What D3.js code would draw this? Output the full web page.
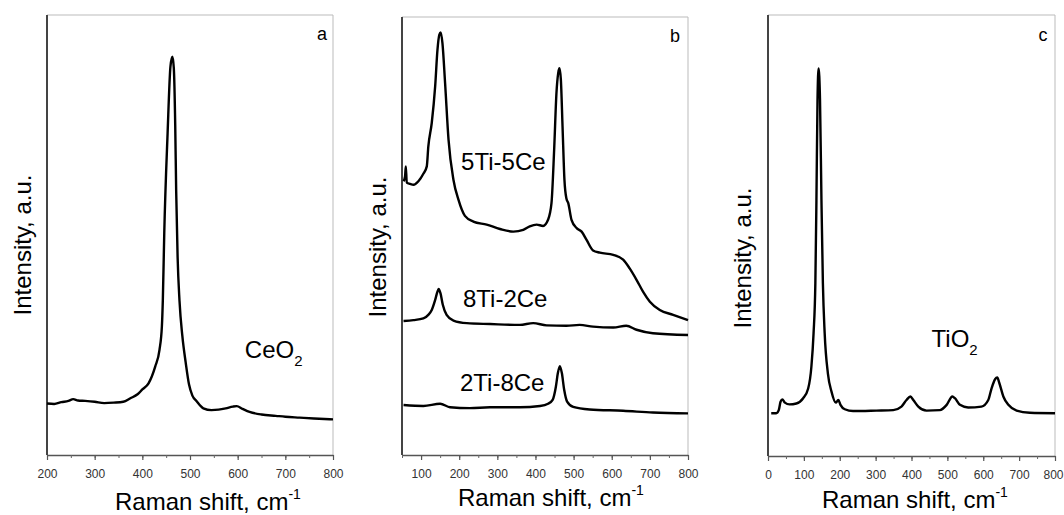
<!DOCTYPE html>
<html>
<head>
<meta charset="utf-8">
<script src="https://cdn.jsdelivr.net/npm/d3@7"></script>
<style>
body { margin: 0; background: #fff; }
text { font-family: "Liberation Sans", Arial, sans-serif; }
</style>
</head>
<body>
<div id="chart"></div>
<script>
// Raman spectra, three panels (a: CeO2, b: mixed oxides, c: TiO2)

// panel a - CeO2
var ceShift = [200, 215, 230, 245, 255, 265, 280, 300, 320, 340, 360, 375, 390, 400, 413, 427, 436, 441, 443, 446, 453, 459, 463, 466, 469, 471, 474, 478, 484, 491, 498, 505, 514, 528, 545, 560, 575, 590, 598, 610, 625, 650, 680, 700, 730, 760, 800];
var ceInt   = [11.7, 11.6, 12.0, 12.3, 12.7, 12.4, 12.3, 12.1, 11.8, 11.9, 12.1, 12.9, 13.8, 14.9, 16.3, 20.1, 23.9, 29.2, 35.2, 50.4, 73.1, 88.3, 90.5, 88.0, 75.0, 60.0, 45.0, 35.0, 27.0, 21.0, 16.0, 13.5, 12.2, 10.6, 10.2, 10.3, 10.6, 11.0, 11.1, 10.5, 9.8, 9.2, 8.9, 8.7, 8.5, 8.3, 8.1];

// panel b - 5Ti-5Ce
var s55Shift = [54, 58, 60, 62.5, 71, 80, 93, 106, 115, 119, 128, 137, 143, 148, 151.5, 156, 163, 172, 185, 198, 215, 237, 272, 307, 342, 368, 385, 403, 420, 433, 442, 449, 455, 459.6, 463, 466.6, 471, 476, 481, 486, 494.5, 508, 521, 534, 551, 569, 604, 630, 647, 665, 682, 700, 726, 761, 800];
var s55Int   = [62.5, 63.6, 65.9, 62.2, 61.9, 61.7, 62.5, 64.2, 65.9, 70.4, 75.8, 84.2, 92.5, 96.0, 96.5, 94.1, 84.9, 72.0, 62.8, 58.3, 54.6, 53.3, 52.6, 51.6, 51.0, 51.4, 52.2, 52.6, 52.3, 53.7, 57.5, 69.7, 82.6, 87.2, 88.3, 85.7, 75.0, 62.8, 58.6, 57.5, 53.7, 51.8, 51.0, 49.1, 46.7, 46.2, 45.7, 44.6, 42.6, 40.0, 37.3, 35.0, 33.1, 32.0, 30.8];

// panel b - 8Ti-2Ce
var s82Shift = [54, 80, 106, 119, 128, 137, 143, 146, 151, 157, 167, 185, 220, 281, 359, 394, 429, 481, 516, 551, 604, 638, 665, 708, 800];
var s82Int   = [30.6, 30.8, 31.2, 32.0, 33.1, 35.4, 37.3, 37.9, 36.9, 34.3, 32.0, 30.7, 30.1, 29.9, 29.7, 30.1, 29.6, 29.5, 29.7, 29.3, 29.1, 29.5, 28.6, 27.8, 27.4];

// panel b - 2Ti-8Ce
var s28Shift = [54, 106, 150, 176, 228, 281, 359, 412, 433, 445, 453.5, 458.7, 464, 469.2, 475.3, 483, 499, 542, 630, 708, 800];
var s28Int   = [11.4, 11.2, 11.7, 10.9, 10.7, 10.9, 10.9, 11.2, 11.7, 12.6, 15.6, 18.7, 20.3, 18.7, 14.9, 12.2, 11.0, 10.4, 10.1, 9.7, 9.5];

// panel c - TiO2
var tiShift = [9, 23, 30, 35, 40, 47, 60, 79, 98, 112, 121, 127, 132, 135, 138, 141, 145, 149, 153, 158, 167, 177, 189, 196, 202, 214, 237, 302, 349, 372, 386, 397, 405, 419, 442, 479, 498, 514, 521, 535, 558, 595, 614, 623, 633, 639, 645, 656, 670, 693, 730, 800];
var tiInt   = [9.7, 9.7, 10.4, 12.3, 12.8, 12.1, 11.7, 11.9, 13.1, 15.3, 20.3, 27.8, 39.2, 58.0, 80.7, 87.9, 80.7, 58.0, 39.2, 27.8, 18.7, 14.6, 12.1, 12.7, 11.6, 10.6, 10.2, 10.3, 10.4, 11.2, 12.7, 13.5, 12.7, 11.2, 10.3, 10.4, 11.6, 13.5, 13.1, 11.6, 11.0, 11.2, 12.7, 15.3, 17.4, 17.8, 16.5, 13.5, 11.6, 10.3, 9.8, 9.7];

// tick labels
var ticksA = [200, 300, 400, 500, 600, 700, 800];
var ticksB = [100, 200, 300, 400, 500, 600, 700, 800];
var ticksC = [0, 100, 200, 300, 400, 500, 600, 700, 800];

var w = 1064;
var h = 515;

var svg = d3.select("#chart").append("svg")
  .attr("width", w)
  .attr("height", h);

var panels = [
  { tag: "a", left: 47, right: 333, top: 15, bottom: 455, xDomain: [200, 800], ticks: ticksA,
    series: [{ x: ceShift, y: ceInt }],
    yTitle: [31, 245], xTitle: [115, 510], tagPos: [322, 40] },
  { tag: "b", left: 402, right: 688, top: 17, bottom: 455, xDomain: [50, 800], ticks: ticksB,
    series: [{ x: s55Shift, y: s55Int }, { x: s82Shift, y: s82Int }, { x: s28Shift, y: s28Int }],
    yTitle: [386, 247], xTitle: [458, 506], tagPos: [675, 42] },
  { tag: "c", left: 768, right: 1055, top: 15, bottom: 456, xDomain: [0, 800], ticks: ticksC,
    series: [{ x: tiShift, y: tiInt }],
    yTitle: [751, 258], xTitle: [822, 508], tagPos: [1043, 41] }
];

panels.forEach(function(p) {
  var x = d3.scaleLinear().domain(p.xDomain).range([p.left, p.right]);
  var y = d3.scaleLinear().domain([0, 100]).range([p.bottom, p.top]);
  p.x = x; p.y = y;

  // frame: light top/right, dark left
  svg.append("line").attr("x1", p.left).attr("x2", p.right).attr("y1", p.top).attr("y2", p.top)
    .attr("stroke", "#bbb").attr("stroke-width", 1);
  svg.append("line").attr("x1", p.right).attr("x2", p.right).attr("y1", p.top).attr("y2", p.bottom)
    .attr("stroke", "#bbb").attr("stroke-width", 1);
  svg.append("line").attr("x1", p.left).attr("x2", p.left).attr("y1", p.top).attr("y2", p.bottom)
    .attr("stroke", "#444").attr("stroke-width", 2);

  // minor ticks every 50
  var minor = d3.range(p.xDomain[0], p.xDomain[1] + 1, 50);
  svg.append("g")
    .attr("transform", "translate(0," + p.bottom + ")")
    .call(d3.axisBottom(x).tickValues(minor).tickSize(3).tickSizeOuter(0).tickFormat(""))
    .call(function(g) {
      g.select(".domain").attr("stroke", "#555").attr("stroke-width", 1.5);
      g.selectAll(".tick line").attr("stroke", "#666");
    });

  svg.append("g")
    .attr("transform", "translate(0," + p.bottom + ")")
    .call(d3.axisBottom(x).tickValues(p.ticks).tickSize(5).tickSizeOuter(0).tickPadding(9))
    .call(function(g) {
      g.select(".domain").remove();
      g.selectAll(".tick line").attr("stroke", "#555").attr("stroke-width", 1.2);
      g.selectAll(".tick text")
        .attr("font-family", "Liberation Sans, Arial, sans-serif")
        .attr("font-size", 12).attr("fill", "#333")
        .attr("dx", function(d) { return x(d) > w - 12 ? -2 : 0; });
    });

  var line = d3.line()
    .x(function(d) { return x(d[0]); })
    .y(function(d) { return y(d[1]); })
    .curve(d3.curveMonotoneX);

  p.series.forEach(function(s) {
    var pts = s.x.map(function(v, i) { return [v, s.y[i]]; });
    svg.append("path")
      .attr("d", line(pts))
      .attr("fill", "none")
      .attr("stroke", "#000")
      .attr("stroke-width", 2.4)
      .attr("stroke-linejoin", "round");
  });

  // titles
  svg.append("text")
    .attr("transform", "translate(" + p.yTitle[0] + "," + p.yTitle[1] + ") rotate(-90)")
    .attr("text-anchor", "middle")
    .attr("font-size", 24)
    .text("Intensity, a.u.");

  var xt = svg.append("text")
    .attr("x", p.xTitle[0]).attr("y", p.xTitle[1])
    .attr("font-size", 24);
  xt.append("tspan").text("Raman shift, cm");
  xt.append("tspan").attr("font-size", 14).attr("dy", -11).text("-1");

  svg.append("text")
    .attr("x", p.tagPos[0]).attr("y", p.tagPos[1])
    .attr("text-anchor", "middle")
    .attr("font-size", 18)
    .text(p.tag);
});

// sample labels
function label(p, xv, yv, main, sub) {
  var t = svg.append("text")
    .attr("x", p.x(xv)).attr("y", p.y(yv))
    .attr("font-size", 24);
  t.append("tspan").text(main);
  if (sub) t.append("tspan").attr("font-size", 15).attr("dy", 8).text(sub);
}

label(panels[0], 615, 22, "CeO", "2");
label(panels[1], 205, 65, "5Ti-5Ce");
label(panels[1], 210, 33.9, "8Ti-2Ce");
label(panels[1], 202, 14.5, "2Ti-8Ce");
label(panels[2], 456, 24.7, "TiO", "2");
</script>
</body>
</html>
